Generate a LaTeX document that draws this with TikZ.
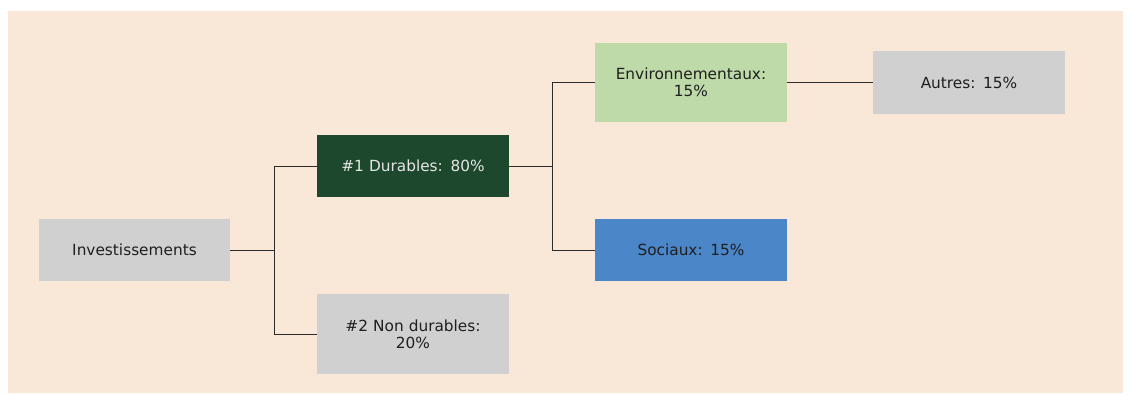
\documentclass[tikz,border=0pt]{standalone}
\usepackage{fontspec}
\setmainfont{DejaVu Sans}
\usepackage{xcolor}

\definecolor{bgbeige}{HTML}{F9E8D8}
\definecolor{boxgrey}{HTML}{D0D0D0}
\definecolor{darkgreen}{HTML}{1D482D}
\definecolor{lightgreen}{HTML}{BDDAA8}
\definecolor{midblue}{HTML}{4A86C8}
\definecolor{linegrey}{HTML}{2B2B2B}

\begin{document}
\begin{tikzpicture}
  [x=0.75pt,y=-0.75pt,
   box/.style={inner sep=0pt,minimum width=143.5pt,minimum height=47pt,
     text width=135pt,align=center,text=black!88,
     font=\fontsize{11.5}{13}\selectfont},
   link/.style={draw=linegrey,line width=0.65pt}]
\useasboundingbox (0,0) rectangle (1130,394);
\fill [bgbeige] (8,11) rectangle (1123,393);
\path
    (134.5,250) node [box,fill=boxgrey] (invest) {Investissements}
    (413,166) node [box,fill=darkgreen,text=white!90!black] (durables) {\#1 Durables: 80\%}
    (413,334) node [box,fill=boxgrey,minimum height=60pt] (nondurables) {\#2 Non durables:\\20\%}
    (691,82.5) node [box,fill=lightgreen,minimum height=59.5pt] (environ) {Environnementaux:\\15\%}
    (691,250) node [box,fill=midblue] (sociaux) {Sociaux: 15\%}
    (969,82.5) node [box,fill=boxgrey] (autres) {Autres: 15\%};
\path
    (274,250) coordinate (split1)
    (552,166) coordinate (split2);
\draw [link] (invest.east) -- (split1) |- (durables.west);
\draw [link] (split1) |- (nondurables.west);
\draw [link] (durables.east) -- (split2) |- (environ.west);
\draw [link] (split2) |- (sociaux.west);
\draw [link] (environ.east) -- (autres.west);
\end{tikzpicture}
\end{document}
